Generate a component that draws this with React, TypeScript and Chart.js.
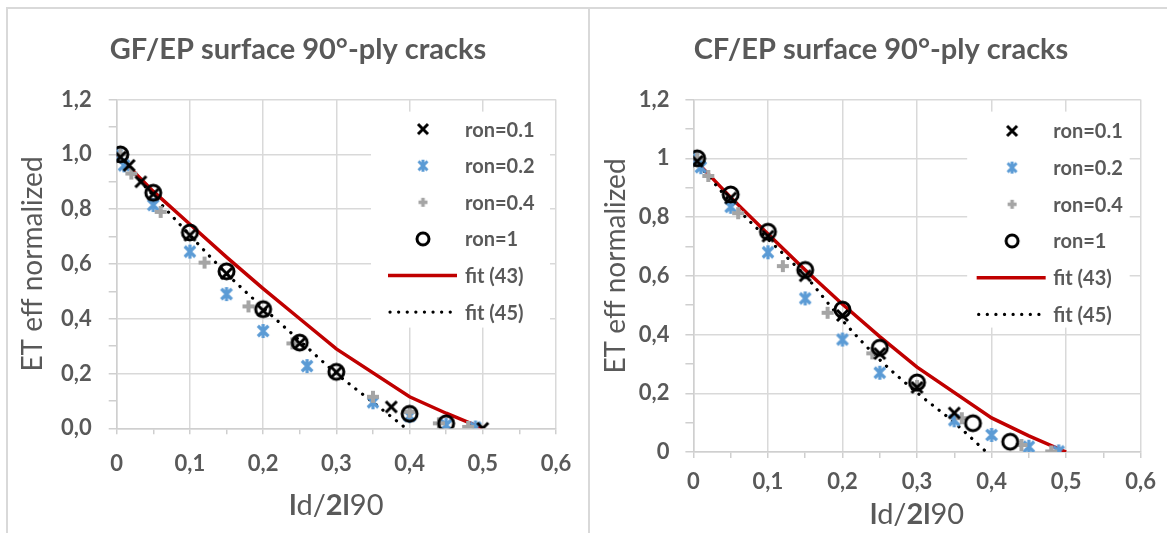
import React, { useEffect, useRef } from 'react';
import { Chart, registerables } from 'chart.js';

Chart.register(...registerables);

const FONT = 'Lato, "Open Sans", "DejaVu Sans", sans-serif';
const TEXT = '#595959';
const GRID = '#d9d9d9';
const RED = '#C00000';
const BLUE = '#5B9BD5';
const GRAY = '#A5A5A5';

// ---- tick labels / names ----
const xTickLabels = ['0', '0,1', '0,2', '0,3', '0,4', '0,5', '0,6'];
const yTickLabelsGF = ['0,0', '0,2', '0,4', '0,6', '0,8', '1,0', '1,2'];
const yTickLabelsCF = ['0', '0,2', '0,4', '0,6', '0,8', '1', '1,2'];
const seriesNames = ['ron=0.1', 'ron=0.2', 'ron=0.4', 'ron=1', 'fit (43)', 'fit (45)'];
const titleGF = 'GF/EP surface 90°-ply cracks';
const titleCF = 'CF/EP surface 90°-ply cracks';
const yAxisTitle = 'ET eff normalized';

// ---- GF/EP data ----
const gfRon01X = [0.005, 0.017, 0.033, 0.05, 0.1, 0.15, 0.2, 0.25, 0.3, 0.375, 0.5];
const gfRon01Y = [0.99, 0.96, 0.9, 0.855, 0.705, 0.565, 0.43, 0.31, 0.205, 0.078, 0.0];
const gfRon02X = [0, 0.01, 0.05, 0.1, 0.15, 0.2, 0.26, 0.35, 0.4, 0.45, 0.49];
const gfRon02Y = [1.0, 0.96, 0.815, 0.645, 0.49, 0.355, 0.227, 0.095, 0.045, 0.012, 0.003];
const gfRon04X = [0.005, 0.02, 0.06, 0.12, 0.18, 0.24, 0.35, 0.4, 0.44, 0.48];
const gfRon04Y = [1.0, 0.93, 0.79, 0.605, 0.445, 0.31, 0.115, 0.06, 0.018, 0.005];
const gfRon1X = [0.005, 0.05, 0.1, 0.15, 0.2, 0.25, 0.3, 0.4, 0.45];
const gfRon1Y = [1.0, 0.86, 0.715, 0.573, 0.435, 0.313, 0.206, 0.053, 0.018];
const gfFit43X = [0, 0.05, 0.1, 0.15, 0.2, 0.25, 0.3, 0.4, 0.45, 0.5];
const gfFit43Y = [1.0, 0.865, 0.745, 0.625, 0.51, 0.4, 0.29, 0.115, 0.055, 0.0];
const gfFit45X = [0, 0.05, 0.1, 0.15, 0.2, 0.25, 0.3, 0.35, 0.395];
const gfFit45Y = [1.0, 0.85, 0.705, 0.565, 0.44, 0.32, 0.2, 0.095, 0.0];

// ---- CF/EP data ----
const cfRon01X = [0.005, 0.05, 0.1, 0.15, 0.2, 0.25, 0.3, 0.35];
const cfRon01Y = [0.99, 0.865, 0.735, 0.6, 0.465, 0.335, 0.22, 0.133];
const cfRon02X = [0, 0.01, 0.05, 0.1, 0.15, 0.2, 0.25, 0.35, 0.4, 0.45, 0.49];
const cfRon02Y = [1.0, 0.97, 0.835, 0.68, 0.523, 0.383, 0.27, 0.108, 0.058, 0.018, 0.002];
const cfRon04X = [0.005, 0.02, 0.06, 0.12, 0.18, 0.24, 0.3, 0.36, 0.44, 0.48];
const cfRon04Y = [1.0, 0.94, 0.813, 0.633, 0.474, 0.336, 0.225, 0.115, 0.024, 0.002];
const cfRon1X = [0.005, 0.05, 0.1, 0.15, 0.2, 0.25, 0.3, 0.375, 0.425];
const cfRon1Y = [1.0, 0.877, 0.75, 0.62, 0.485, 0.355, 0.237, 0.098, 0.035];
const cfFit43X = [0, 0.05, 0.1, 0.15, 0.2, 0.25, 0.3, 0.4, 0.45, 0.5];
const cfFit43Y = [1.0, 0.867, 0.742, 0.62, 0.503, 0.393, 0.289, 0.116, 0.055, 0.0];
const cfFit45X = [0, 0.05, 0.1, 0.15, 0.2, 0.25, 0.3, 0.35, 0.393];
const cfFit45Y = [1.0, 0.852, 0.725, 0.6, 0.448, 0.314, 0.202, 0.1, 0.0];

type Kind = 'x' | 'star' | 'plus' | 'circle';

function makeMarker(kind: Kind, size: number, lw: number, color: string): HTMLCanvasElement {
  const pad = Math.ceil(lw) + 1;
  const s = Math.ceil(size + pad * 2);
  const c = document.createElement('canvas');
  c.width = s;
  c.height = s;
  const g = c.getContext('2d')!;
  g.strokeStyle = color;
  g.lineWidth = lw;
  const m = s / 2;
  const r = size / 2;
  g.beginPath();
  if (kind === 'x') {
    g.moveTo(m - r, m - r); g.lineTo(m + r, m + r);
    g.moveTo(m + r, m - r); g.lineTo(m - r, m + r);
  } else if (kind === 'star') {
    const d = r * 0.75;
    g.moveTo(m - d, m - d); g.lineTo(m + d, m + d);
    g.moveTo(m + d, m - d); g.lineTo(m - d, m + d);
    g.moveTo(m, m - r); g.lineTo(m, m + r);
  } else if (kind === 'plus') {
    g.moveTo(m - r, m); g.lineTo(m + r, m);
    g.moveTo(m, m - r); g.lineTo(m, m + r);
  } else {
    g.arc(m, m, r, 0, Math.PI * 2);
  }
  g.stroke();
  return c;
}

interface PanelCfg {
  left: number;
  width: number;
  title: string;
  titleX: number;
  titleY: number;
  yTitleX: number;
  yTitleY: number;
  xTitleY: number;
  yTickLabels: string[];
  padTop: number;
  padRight: number;
  yScaleWidth: number;
  xScaleHeight: number;
  yTickPad: number;
  xTickPad: number;
  leg: { boxL: number; boxR: number; marker: number; text: number; lineA: number; lineB: number; row0: number; rowStep: number };
  series: { x: number[]; y: number[] }[];
}

const pts = (xs: number[], ys: number[]) => xs.map((x, i) => ({ x, y: ys[i] }));

function Panel({ cfg }: { cfg: PanelCfg }) {
  const ref = useRef<HTMLCanvasElement>(null);
  useEffect(() => {
    const canvas = ref.current!;
    const mX = makeMarker('x', 11, 3, '#000');
    const mStar = makeMarker('star', 14, 3.2, BLUE);
    const mPlus = makeMarker('plus', 12, 4, GRAY);
    const mCircle = makeMarker('circle', 15, 3, '#000');
    const lX = makeMarker('x', 10, 3, '#000');
    const lStar = makeMarker('star', 12, 3, BLUE);
    const lPlus = makeMarker('plus', 9, 3.5, GRAY);
    const lCircle = makeMarker('circle', 12, 3, '#000');
    const legendMarkers = [lX, lStar, lPlus, lCircle];
    const s = cfg.series;

    const decor = {
      id: 'decor',
      beforeDatasetsDraw(chart: any) {
        const { ctx, chartArea: ca } = chart;
        const L = cfg.leg;
        ctx.save();
        ctx.fillStyle = '#ffffff';
        ctx.fillRect(ca.right - L.boxL, ca.top + 12, L.boxL - L.boxR, 216);
        ctx.font = `bold 20px ${FONT}`;
        ctx.fillStyle = TEXT;
        ctx.textBaseline = 'middle';
        ctx.textAlign = 'left';
        for (let i = 0; i < seriesNames.length; i++) {
          const y = ca.top + L.row0 + i * L.rowStep;
          if (i < 4) {
            const img = legendMarkers[i];
            ctx.drawImage(img, ca.right - L.marker - img.width / 2, y - img.height / 2);
          } else if (i === 4) {
            ctx.beginPath();
            ctx.strokeStyle = RED;
            ctx.lineWidth = 3.5;
            ctx.moveTo(ca.right - L.lineA, y);
            ctx.lineTo(ca.right - L.lineB, y);
            ctx.stroke();
          } else {
            ctx.beginPath();
            ctx.strokeStyle = '#000';
            ctx.lineWidth = 3.2;
            ctx.lineCap = 'round';
            ctx.setLineDash([0.1, 8.5]);
            ctx.moveTo(ca.right - L.lineA + 2, y);
            ctx.lineTo(ca.right - L.lineB, y);
            ctx.stroke();
            ctx.setLineDash([]);
            ctx.lineCap = 'butt';
          }
          ctx.fillText(seriesNames[i], ca.right - L.text, y + 1);
        }
        ctx.restore();
      },
      afterDraw(chart: any) {
        const { ctx, chartArea: ca } = chart;
        ctx.save();
        ctx.fillStyle = TEXT;
        ctx.textBaseline = 'middle';
        ctx.textAlign = 'center';
        ctx.font = `bold 29px ${FONT}`;
        ctx.fillText(cfg.title, cfg.titleX, cfg.titleY);
        // y axis title
        ctx.save();
        ctx.translate(cfg.yTitleX, cfg.yTitleY);
        ctx.rotate(-Math.PI / 2);
        ctx.font = `28px ${FONT}`;
        ctx.fillText(yAxisTitle, 0, 0);
        ctx.restore();
        // x axis title with mixed weights
        const segs: [string, string][] = [['l', 'bold'], ['d', 'normal'], ['/', 'normal'], ['2l', 'bold'], ['90', 'normal']];
        let total = 0;
        const widths = segs.map(([t, w]) => {
          ctx.font = `${w} 29px ${FONT}`;
          const m = ctx.measureText(t).width;
          total += m;
          return m;
        });
        let x = (ca.left + ca.right) / 2 - total / 2;
        ctx.textAlign = 'left';
        segs.forEach(([t, w], i) => {
          ctx.font = `${w} 29px ${FONT}`;
          ctx.fillText(t, x, cfg.xTitleY);
          x += widths[i];
        });
        ctx.restore();
      },
    };

    const chart = new Chart(canvas, {
      type: 'scatter',
      data: {
        datasets: [
          { label: seriesNames[0], data: pts(s[0].x, s[0].y), pointStyle: mX as any, pointRadius: 6, order: 1 },
          { label: seriesNames[1], data: pts(s[1].x, s[1].y), pointStyle: mStar as any, pointRadius: 7, order: 3 },
          { label: seriesNames[2], data: pts(s[2].x, s[2].y), pointStyle: mPlus as any, pointRadius: 6, order: 2 },
          { label: seriesNames[3], data: pts(s[3].x, s[3].y), pointStyle: mCircle as any, pointRadius: 8, order: 0 },
          {
            label: seriesNames[4], data: pts(s[4].x, s[4].y), showLine: true, pointRadius: 0,
            borderColor: RED, borderWidth: 3.5, tension: 0, order: 5,
          },
          {
            label: seriesNames[5], data: pts(s[5].x, s[5].y), showLine: true, pointRadius: 0,
            borderColor: '#000', borderWidth: 3.2, borderDash: [0.1, 8.5], borderCapStyle: 'round',
            cubicInterpolationMode: 'monotone', order: 4,
          },
        ],
      },
      options: {
        responsive: false,
        animation: false,
        events: [],
        layout: { padding: { top: cfg.padTop, right: cfg.padRight, left: 0, bottom: 0 } },
        plugins: { legend: { display: false }, tooltip: { enabled: false }, title: { display: false } },
        scales: {
          x: {
            type: 'linear',
            min: 0,
            max: 0.6,
            afterFit: (sc: any) => { sc.height = cfg.xScaleHeight; },
            border: { display: true, color: '#cfcfcf', width: 1.5 },
            grid: {
              color: (c: any) => (Math.round(c.tick.value * 20) % 2 === 0 ? GRID : 'rgba(0,0,0,0)'),
              lineWidth: 1.5,
              tickColor: '#cfcfcf',
              tickLength: 6,
              drawTicks: true,
            },
            ticks: {
              stepSize: 0.05,
              maxTicksLimit: 100,
              autoSkip: false,
              maxRotation: 0,
              padding: cfg.xTickPad,
              color: TEXT,
              font: { family: FONT, size: 22, weight: 'bold' },
              callback: (v: any) => {
                const k = Math.round(Number(v) * 20);
                return k % 2 === 0 ? xTickLabels[k / 2] : '';
              },
            },
          },
          y: {
            type: 'linear',
            min: 0,
            max: 1.2,
            afterFit: (sc: any) => { sc.width = cfg.yScaleWidth; },
            border: { display: true, color: '#cfcfcf', width: 1.5 },
            grid: {
              color: (c: any) => (Math.round(c.tick.value * 10) % 2 === 0 ? GRID : 'rgba(0,0,0,0)'),
              lineWidth: 1.5,
              tickColor: '#cfcfcf',
              tickLength: 8,
              drawTicks: true,
            },
            ticks: {
              stepSize: 0.1,
              maxTicksLimit: 100,
              autoSkip: false,
              padding: cfg.yTickPad,
              color: TEXT,
              font: { family: FONT, size: 22, weight: 'bold' },
              callback: (v: any) => {
                const k = Math.round(Number(v) * 10);
                return k % 2 === 0 ? cfg.yTickLabels[k / 2] : '';
              },
            },
          },
        },
      },
      plugins: [decor],
    } as any);
    return () => chart.destroy();
  }, [cfg]);

  return (
    <canvas
      ref={ref}
      width={cfg.width}
      height={524}
      style={{ position: 'absolute', left: cfg.left, top: 9, width: cfg.width, height: 524 }}
    />
  );
}

const gfCfg: PanelCfg = {
  left: 8,
  width: 580,
  title: titleGF,
  titleX: 290,
  titleY: 41,
  yTitleX: 25,
  yTitleY: 255,
  xTitleY: 497,
  yTickLabels: yTickLabelsGF,
  padTop: 90.6,
  padRight: 32,
  yScaleWidth: 108.7,
  xScaleHeight: 104.7,
  yTickPad: 17,
  xTickPad: 16,
  leg: { boxL: 185, boxR: 6, marker: 133, text: 91, lineA: 168, lineB: 99, row0: 29.5, rowStep: 36.6 },
  series: [
    { x: gfRon01X, y: gfRon01Y },
    { x: gfRon02X, y: gfRon02Y },
    { x: gfRon04X, y: gfRon04Y },
    { x: gfRon1X, y: gfRon1Y },
    { x: gfFit43X, y: gfFit43Y },
    { x: gfFit45X, y: gfFit45Y },
  ],
};

const cfCfg: PanelCfg = {
  left: 590,
  width: 577,
  title: titleCF,
  titleX: 291,
  titleY: 41,
  yTitleX: 26,
  yTitleY: 257,
  xTitleY: 506,
  yTickLabels: yTickLabelsCF,
  padTop: 90.6,
  padRight: 26,
  yScaleWidth: 103.4,
  xScaleHeight: 81,
  yTickPad: 16,
  xTickPad: 11,
  leg: { boxL: 173.5, boxR: 11, marker: 128.6, text: 87.4, lineA: 164, lineB: 95, row0: 31.3, rowStep: 36.7 },
  series: [
    { x: cfRon01X, y: cfRon01Y },
    { x: cfRon02X, y: cfRon02Y },
    { x: cfRon04X, y: cfRon04Y },
    { x: cfRon1X, y: cfRon1Y },
    { x: cfFit43X, y: cfFit43Y },
    { x: cfFit45X, y: cfFit45Y },
  ],
};

export default function App() {
  return (
    <div style={{ position: 'absolute', left: 0, top: 0, width: 1167, height: 533, background: '#fff', overflow: 'hidden' }}>
      <div style={{ position: 'absolute', left: 6, top: 7, width: 1161, height: 2, background: '#d9d9d9' }} />
      <div style={{ position: 'absolute', left: 6, top: 7, width: 2, height: 526, background: '#d9d9d9' }} />
      <div style={{ position: 'absolute', left: 588, top: 7, width: 2, height: 526, background: '#d9d9d9' }} />
      <Panel cfg={gfCfg} />
      <Panel cfg={cfCfg} />
    </div>
  );
}
